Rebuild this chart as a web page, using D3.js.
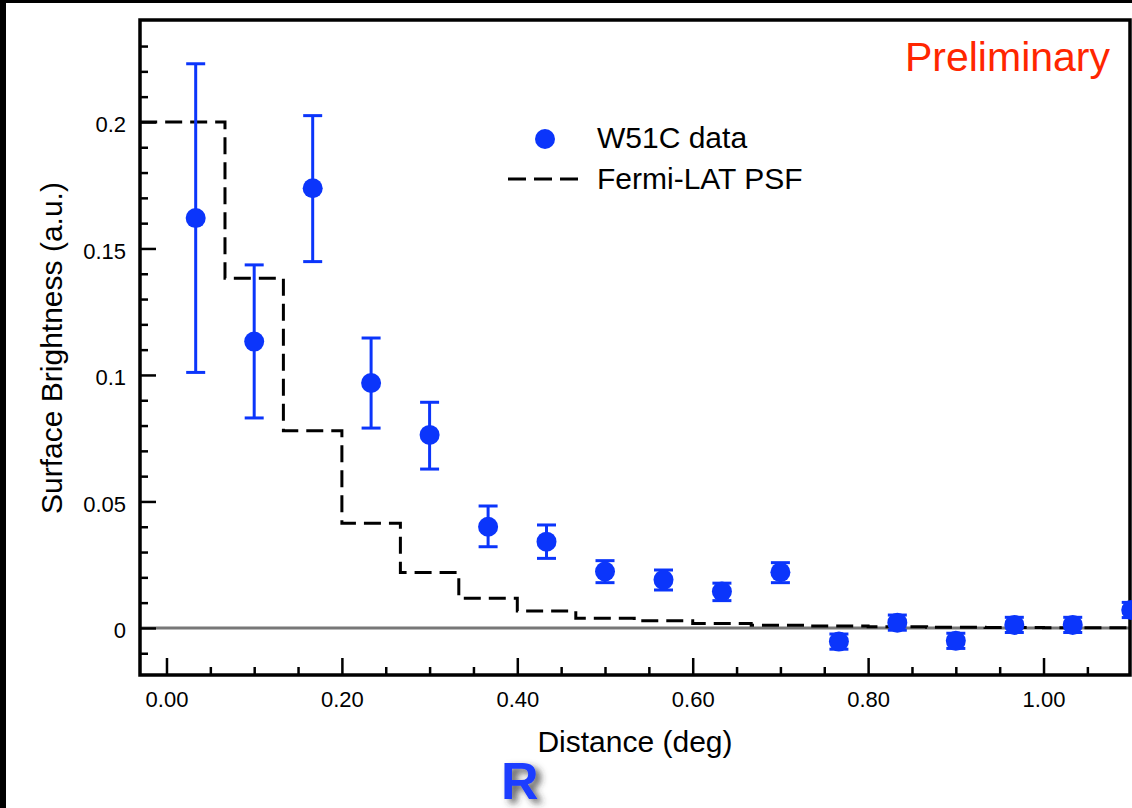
<!DOCTYPE html>
<html>
<head>
<meta charset="utf-8">
<script src="https://cdn.jsdelivr.net/npm/d3@7"></script>
<style>
  html, body { margin: 0; padding: 0; background: #000; }
  svg { display: block; }
  text { font-family: "Liberation Sans", Arial, Helvetica, sans-serif; }
</style>
</head>
<body>
<script>
// W51C radial profile
const distance = [0.0333, 0.1, 0.1667, 0.2333, 0.3, 0.3667, 0.4333, 0.5, 0.5667, 0.6333, 0.7, 0.7667, 0.8333, 0.9, 0.9667, 1.0333, 1.1];
const brightness = [0.162, 0.1132, 0.1738, 0.0968, 0.0763, 0.0400, 0.0341, 0.0223, 0.0190, 0.0144, 0.0220, -0.0054, 0.0021, -0.0051, 0.0012, 0.0012, 0.0071];
const errUp = [0.061, 0.0303, 0.0287, 0.0178, 0.0129, 0.0082, 0.0066, 0.0043, 0.0039, 0.0033, 0.0038, 0.003, 0.003, 0.003, 0.003, 0.003, 0.003];
const errDown = [0.061, 0.0302, 0.029, 0.0178, 0.0135, 0.0079, 0.0066, 0.0044, 0.004, 0.0036, 0.0041, 0.003, 0.003, 0.003, 0.003, 0.003, 0.003];

// PSF step histogram (bin left edges + values)
const psfEdges = [-0.03, 0.0667, 0.1333, 0.2, 0.2667, 0.3333, 0.4, 0.4667, 0.5333, 0.6, 0.6667, 0.7333, 0.8, 0.8667, 0.9333, 1.0, 1.0667];
const psfValues = [0.2, 0.1382, 0.0779, 0.0414, 0.0219, 0.0117, 0.0067, 0.0038, 0.0028, 0.0018, 0.0011, 0.0008, 0.0005, 0.0003, 0.0002, 0.0001, 0.0001];

const xMajor = [0, 0.2, 0.4, 0.6, 0.8, 1.0];
const xTickLabels = ["0.00", "0.20", "0.40", "0.60", "0.80", "1.00"];
const xMinor = [0.05, 0.1, 0.15, 0.25, 0.3, 0.35, 0.45, 0.5, 0.55, 0.65, 0.7, 0.75, 0.85, 0.9, 0.95, 1.05];
const yMajor = [0, 0.05, 0.1, 0.15, 0.2];
const yTickLabels = ["0", "0.05", "0.1", "0.15", "0.2"];
const yMinor = [-0.01, 0.01, 0.02, 0.03, 0.04, 0.06, 0.07, 0.08, 0.09, 0.11, 0.12, 0.13, 0.14, 0.16, 0.17, 0.18, 0.19, 0.21, 0.22, 0.23];

const W = 1132, H = 808;
const blue = "#0b35fb";

const svg = d3.select("body").append("svg")
  .attr("width", W)
  .attr("height", H);

// white slide area inside the black border
svg.append("rect")
  .attr("x", 6).attr("y", 3)
  .attr("width", W - 6).attr("height", H - 3)
  .attr("fill", "#fff");

const x = d3.scaleLinear().domain([-0.0302, 1.0986]).range([140, 1130]);
const y = d3.scaleLinear().domain([-0.0186, 0.2403]).range([675, 20]);

// zero line
svg.append("line")
  .attr("x1", x.range()[0]).attr("x2", x.range()[1])
  .attr("y1", y(0)).attr("y2", y(0))
  .attr("stroke", "#777")
  .attr("stroke-width", 3);

// PSF step line
const psfPts = psfEdges.map((e, i) => [e, psfValues[i]]);
psfPts.push([x.domain()[1], psfValues[psfValues.length - 1]]);
svg.append("path")
  .datum(psfPts)
  .attr("fill", "none")
  .attr("stroke", "#000")
  .attr("stroke-width", 3)
  .attr("stroke-dasharray", "17,8")
  .attr("d", d3.line().x(d => x(d[0])).y(d => y(d[1])).curve(d3.curveStepAfter));

// axes
const styleAxis = g => {
  g.select(".domain").remove();
  g.selectAll(".tick line").attr("stroke", "#000").attr("stroke-width", 2.5);
  g.selectAll(".tick text")
    .attr("fill", "#000")
    .style("font-size", "22px")
    .style("font-family", "'Liberation Sans', Arial, Helvetica, sans-serif");
};

svg.append("g")
  .attr("transform", `translate(0,${y.range()[0]})`)
  .call(d3.axisBottom(x).tickValues(xMinor).tickSize(-8).tickFormat(""))
  .call(styleAxis);
svg.append("g")
  .attr("transform", `translate(0,${y.range()[0]})`)
  .call(d3.axisBottom(x).tickValues(xMajor).tickSize(-17).tickPadding(16)
    .tickFormat((d, i) => xTickLabels[i]))
  .call(styleAxis);

svg.append("g")
  .attr("transform", `translate(${x.range()[0]},0)`)
  .call(d3.axisLeft(y).tickValues(yMinor).tickSize(-8).tickFormat(""))
  .call(styleAxis);
svg.append("g")
  .attr("transform", `translate(${x.range()[0]},0)`)
  .call(d3.axisLeft(y).tickValues(yMajor).tickSize(-16).tickPadding(14)
    .tickFormat((d, i) => yTickLabels[i]))
  .call(styleAxis)
  .selectAll(".tick text").attr("dy", "0.45em");

// frame
svg.append("rect")
  .attr("x", x.range()[0]).attr("y", y.range()[1])
  .attr("width", x.range()[1] - x.range()[0])
  .attr("height", y.range()[0] - y.range()[1])
  .attr("fill", "none")
  .attr("stroke", "#000")
  .attr("stroke-width", 3.5);

// error bars
const pts = distance.map((d, i) => ({ d: d, v: brightness[i], lo: brightness[i] - errDown[i], hi: brightness[i] + errUp[i] }));
const eb = svg.append("g").attr("stroke", blue).attr("stroke-width", 3);
eb.selectAll(".vbar").data(pts).enter().append("line")
  .attr("x1", p => x(p.d)).attr("x2", p => x(p.d))
  .attr("y1", p => y(p.lo)).attr("y2", p => y(p.hi));
eb.selectAll(".capHi").data(pts).enter().append("line")
  .attr("x1", p => x(p.d) - 9.5).attr("x2", p => x(p.d) + 9.5)
  .attr("y1", p => y(p.hi)).attr("y2", p => y(p.hi));
eb.selectAll(".capLo").data(pts).enter().append("line")
  .attr("x1", p => x(p.d) - 9.5).attr("x2", p => x(p.d) + 9.5)
  .attr("y1", p => y(p.lo)).attr("y2", p => y(p.lo));

svg.selectAll("circle.pt").data(pts).enter().append("circle")
  .attr("class", "pt")
  .attr("cx", p => x(p.d))
  .attr("cy", p => y(p.v))
  .attr("r", 10)
  .attr("fill", blue);

// legend
svg.append("circle").attr("cx", 545).attr("cy", 139).attr("r", 10).attr("fill", blue);
svg.append("text").attr("x", 597).attr("y", 148).style("font-size", "30px").text("W51C data");
svg.append("line")
  .attr("x1", 508).attr("x2", 580).attr("y1", 179).attr("y2", 179)
  .attr("stroke", "#000").attr("stroke-width", 3).attr("stroke-dasharray", "18,8");
svg.append("text").attr("x", 597).attr("y", 189).style("font-size", "30px").text("Fermi-LAT PSF");

// titles
svg.append("text")
  .attr("x", 635).attr("y", 752)
  .attr("text-anchor", "middle")
  .style("font-size", "30px")
  .text("Distance (deg)");
svg.append("text")
  .attr("transform", "translate(62,348) rotate(-90)")
  .attr("text-anchor", "middle")
  .style("font-size", "30px")
  .text("Surface Brightness (a.u.)");

svg.append("text")
  .attr("x", 1110).attr("y", 71)
  .attr("text-anchor", "end")
  .attr("fill", "#ff2600")
  .style("font-size", "41px")
  .text("Preliminary");

// the "R" with soft shadow
const defs = svg.append("defs");
const f = defs.append("filter").attr("id", "shadow").attr("x", "-50%").attr("y", "-50%").attr("width", "200%").attr("height", "200%");
f.append("feDropShadow")
  .attr("dx", 5).attr("dy", 4).attr("stdDeviation", 3.5)
  .attr("flood-color", "#333").attr("flood-opacity", 0.8);
svg.append("text")
  .attr("x", 501).attr("y", 799)
  .attr("fill", "#1a3cff")
  .attr("filter", "url(#shadow)")
  .style("font-size", "52px")
  .style("font-weight", "bold")
  .text("R");
</script>
</body>
</html>
